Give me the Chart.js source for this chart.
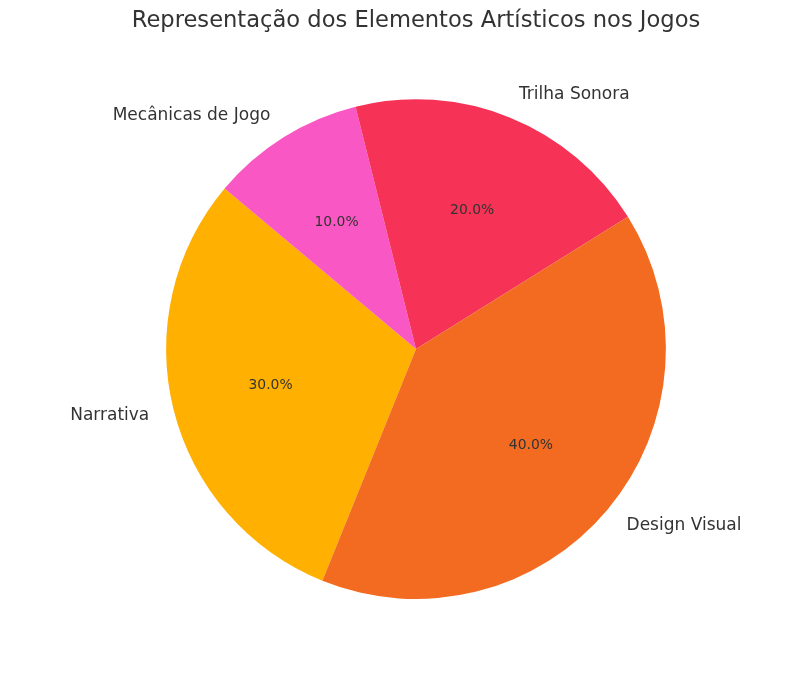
<!DOCTYPE html>
<html>

<head>
  <title>Representação dos Elementos Artísticos nos Jogos</title>
  <script src="https://cdn.jsdelivr.net/npm/chart.js"></script>
  <style>
    body { margin: 0; background: #fff; }
  </style>
</head>

<body>
  <canvas id="pieChart" width="812" height="690"></canvas>

  <script>
    // data, in clockwise drawing order
    const categories = ['Narrativa', 'Mecânicas de Jogo', 'Trilha Sonora', 'Design Visual'];
    const shares = [30, 10, 20, 40];
    const sliceColors = ['#FFB000', '#F957C3', '#F63256', '#F26B21'];

    const textColor = '#333333';
    const fontFamily = "'DejaVu Sans', sans-serif";

    // draws category names outside the pie and percentages inside
    const sliceLabels = {
      id: 'sliceLabels',
      afterDatasetsDraw(chart) {
        const ctx = chart.ctx;
        const meta = chart.getDatasetMeta(0);
        const total = shares.reduce((a, b) => a + b, 0);
        ctx.save();
        ctx.fillStyle = textColor;
        ctx.textBaseline = 'middle';
        meta.data.forEach((arc, i) => {
          const mid = (arc.startAngle + arc.endAngle) / 2;
          const r = arc.outerRadius;
          const cos = Math.cos(mid);
          const sin = Math.sin(mid);

          // outer label
          ctx.font = '17px ' + fontFamily;
          ctx.textAlign = cos >= 0 ? 'left' : 'right';
          ctx.fillText(categories[i], arc.x + cos * r * 1.1, arc.y + sin * r * 1.1);

          // percentage
          ctx.font = '13.9px ' + fontFamily;
          ctx.textAlign = 'center';
          const pct = (shares[i] / total * 100).toFixed(1) + '%';
          ctx.fillText(pct, arc.x + cos * r * 0.6, arc.y + sin * r * 0.6);
        });
        ctx.restore();
      }
    };

    const pieCtx = document.getElementById('pieChart').getContext('2d');
    const pieChart = new Chart(pieCtx, {
      type: 'pie',
      data: {
        labels: categories,
        datasets: [
          {
            data: shares,
            backgroundColor: sliceColors,
            borderWidth: 0,
          }
        ]
      },
      options: {
        responsive: false,
        animation: false,
        rotation: 202,
        layout: {
          // wide area so the title is not squeezed; pie centre lands at x = 416
          padding: { left: 20, right: 0, top: 0, bottom: 91 }
        },
        plugins: {
          legend: { display: false },
          tooltip: { enabled: false },
          title: {
            display: true,
            text: 'Representação dos Elementos Artísticos nos Jogos',
            color: textColor,
            font: { family: fontFamily, size: 22.6, weight: 'normal' },
            padding: { top: 8, bottom: 64.1 }
          }
        }
      },
      plugins: [sliceLabels]
    });
  </script>
</body>

</html>
